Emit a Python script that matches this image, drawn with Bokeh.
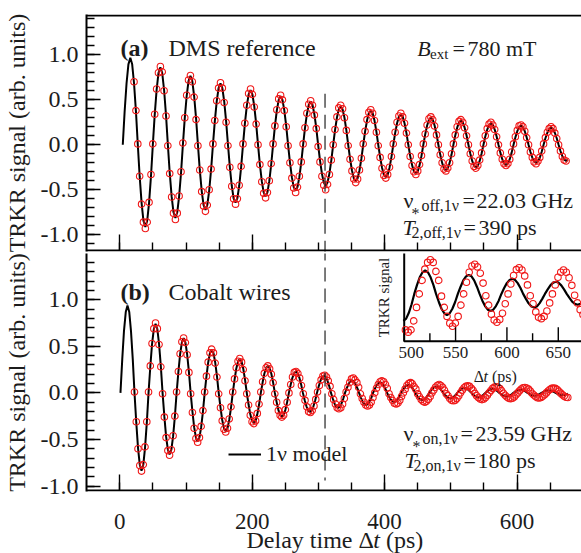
import math
from bokeh.plotting import figure
from bokeh.models import (Range1d, LinearAxis, FixedTicker, Label, ColumnDataSource,
                          PrintfTickFormatter, Legend, LegendItem)
from bokeh.layouts import column
from bokeh.embed import file_html
from bokeh.resources import INLINE
from bokeh.core.properties import value

# ======================= DATA =======================
# (a) DMS reference: delay times (ps) of the model curve
t_a = [
    4.5, 7.3, 10.2, 13.0, 15.9, 18.7, 21.5, 24.4, 27.2, 30.0, 32.9, 35.7, 38.6, 41.4, 44.2, 47.1,
    49.9, 52.7, 55.6, 58.4, 61.3, 64.1, 66.9, 69.8, 72.6, 75.4, 78.3, 81.1, 84.0, 86.8, 89.6, 92.5,
    95.3, 98.1, 101.0, 103.8, 106.7, 109.5, 112.3, 115.2, 118.0, 120.8, 123.7, 126.5, 129.4, 132.2, 135.0, 137.9,
    140.7, 143.5, 146.4, 149.2, 152.1, 154.9, 157.7, 160.6, 163.4, 166.2, 169.1, 171.9, 174.8, 177.6, 180.4, 183.3,
    186.1, 188.9, 191.8, 194.6, 197.5, 200.3, 203.1, 206.0, 208.8, 211.6, 214.5, 217.3, 220.2, 223.0, 225.8, 228.7,
    231.5, 234.3, 237.2, 240.0, 242.9, 245.7, 248.5, 251.4, 254.2, 257.0, 259.9, 262.7, 265.6, 268.4, 271.2, 274.1,
    276.9, 279.7, 282.6, 285.4, 288.3, 291.1, 293.9, 296.8, 299.6, 302.4, 305.3, 308.1, 311.0, 313.8, 316.6, 319.5,
    322.3, 325.1, 328.0, 330.8, 333.7, 336.5, 339.3, 342.2, 345.0, 347.8, 350.7, 353.5, 356.4, 359.2, 362.0, 364.9,
    367.7, 370.5, 373.4, 376.2, 379.1, 381.9, 384.7, 387.6, 390.4, 393.2, 396.1, 398.9, 401.8, 404.6, 407.4, 410.3,
    413.1, 415.9, 418.8, 421.6, 424.5, 427.3, 430.1, 433.0, 435.8, 438.6, 441.5, 444.3, 447.2, 450.0, 452.8, 455.7,
    458.5, 461.3, 464.2, 467.0, 469.9, 472.7, 475.5, 478.4, 481.2, 484.0, 486.9, 489.7, 492.6, 495.4, 498.2, 501.1,
    503.9, 506.7, 509.6, 512.4, 515.3, 518.1, 520.9, 523.8, 526.6, 529.4, 532.3, 535.1, 538.0, 540.8, 543.6, 546.5,
    549.3, 552.1, 555.0, 557.8, 560.7, 563.5, 566.3, 569.2, 572.0, 574.8, 577.7, 580.5, 583.4, 586.2, 589.0, 591.9,
    594.7, 597.5, 600.4, 603.2, 606.1, 608.9, 611.7, 614.6, 617.4, 620.2, 623.1, 625.9, 628.8, 631.6, 634.4, 637.3,
    640.1, 642.9, 645.8, 648.6, 651.5, 654.3, 657.1, 660.0, 662.8, 665.6, 668.5, 671.3, 674.2, 677.0,
]
# (a) 1-nu model curve
model_a = [
    0, .370, .684, .894, .967, .894, .684, .370, 0, -.349, -.645, -.843, -.912, -.843, -.645, -.349,
    0, .330, .609, .796, .861, .796, .609, .330, 0, -.311, -.574, -.750, -.812, -.750, -.574, -.311,
    0, .293, .542, .708, .766, .708, .542, .293, 0, -.277, -.511, -.668, -.723, -.668, -.511, -.277,
    0, .261, .482, .630, .682, .630, .482, .261, 0, -.246, -.455, -.594, -.643, -.594, -.455, -.246,
    0, .232, .429, .561, .607, .561, .429, .232, 0, -.219, -.404, -.529, -.572, -.529, -.404, -.219,
    0, .207, .382, .499, .540, .499, .382, .207, 0, -.195, -.360, -.470, -.509, -.470, -.360, -.195,
    0, .184, .340, .444, .481, .444, .340, .184, 0, -.173, -.320, -.419, -.453, -.419, -.320, -.173,
    0, .164, .303, .395, .428, .395, .303, .164, 0, -.155, -.286, -.373, -.404, -.373, -.286, -.155,
    0, .146, .269, .352, .381, .352, .269, .146, 0, -.137, -.254, -.332, -.359, -.332, -.254, -.137,
    0, .130, .240, .313, .339, .313, .240, .130, 0, -.123, -.226, -.296, -.320, -.296, -.226, -.123,
    0, .116, .214, .279, .302, .279, .214, .116, 0, -.109, -.201, -.263, -.285, -.263, -.201, -.109,
    0, .103, .190, .249, .269, .249, .190, .103, 0, -.097, -.179, -.234, -.253, -.234, -.179, -.097,
    0, .092, .169, .221, .239, .221, .169, .092, 0, -.087, -.160, -.209, -.226, -.209, -.160, -.087,
    0, .082, .151, .197, .213, .197, .151, .082, 0, -.077, -.142, -.186, -.201, -.186, -.142, -.077,
    0, .073, .134, .176, .190, .176, .134, .073, 0, -.069, -.127, -.165, -.179, -.165,
]
# (a) measured TRKR signal, taken at t_a[6] ... t_a[236]
signal_a = [
    .70, .38, .01, -.35, -.66, -.86, -.93, -.86, -.64, -.33,
    .01, .34, .62, .80, .87, .81, .60, .32, -.01, -.32, -.58, -.76, -.83, -.76, -.57, -.30,
    .02, .30, .55, .72, .77, .70, .53, .28, -.01, -.28, -.52, -.68, -.74, -.67, -.50, -.27,
    .01, .27, .49, .63, .69, .63, .47, .25, -.01, -.25, -.46, -.60, -.66, -.60, -.45, -.24,
    .01, .24, .44, .57, .62, .56, .42, .23, .00, -.22, -.41, -.54, -.59, -.53, -.40, -.21,
    .01, .21, .39, .51, .55, .50, .38, .20, -.01, -.20, -.37, -.48, -.53, -.47, -.35, -.19,
    .01, .19, .35, .45, .49, .44, .33, .18, -.02, -.19, -.35, -.45, -.50, -.44, -.33, -.17,
    .00, .17, .31, .41, .44, .40, .30, .16, -.01, -.16, -.29, -.38, -.42, -.38, -.28, -.15,
    .01, .15, .28, .36, .39, .35, .27, .14, -.01, -.14, -.26, -.34, -.37, -.33, -.25, -.13,
    .01, .14, .25, .32, .35, .31, .24, .13, .00, -.13, -.23, -.30, -.33, -.29, -.22, -.12,
    .01, .12, .22, .29, .31, .28, .21, .11, .00, -.11, -.20, -.27, -.29, -.26, -.20, -.10,
    .01, .11, .20, .26, .28, .25, .19, .10, .00, -.10, -.18, -.24, -.26, -.23, -.17, -.09,
    .01, .10, .18, .23, .25, .22, .17, .09, .00, -.09, -.16, -.21, -.23, -.21, -.16, -.08,
    .01, .09, .16, .21, .22, .20, .15, .08, .00, -.08, -.14, -.19, -.21, -.18, -.14, -.07,
    .01, .08, .14, .18, .20, .18, .13, .07, .00, -.07, -.13, -.17, -.18,
]

# (b) Cobalt wires: delay times (ps) of the model curve
t_b = [
    1.0, 3.7, 6.3, 9.0, 11.6, 14.3, 16.9, 19.6, 22.2, 24.9, 27.5, 30.2, 32.8, 35.5, 38.1, 40.8,
    43.4, 46.1, 48.7, 51.4, 54.0, 56.7, 59.3, 62.0, 64.6, 67.3, 69.9, 72.6, 75.2, 77.9, 80.5, 83.2,
    85.8, 88.5, 91.1, 93.8, 96.4, 99.1, 101.7, 104.4, 107.0, 109.7, 112.3, 115.0, 117.6, 120.3, 122.9, 125.6,
    128.2, 130.9, 133.5, 136.2, 138.8, 141.5, 144.1, 146.8, 149.4, 152.1, 154.7, 157.4, 160.0, 162.7, 165.3, 168.0,
    170.6, 173.3, 175.9, 178.6, 181.2, 183.9, 186.5, 189.2, 191.8, 194.5, 197.1, 199.8, 202.4, 205.1, 207.7, 210.4,
    213.0, 215.7, 218.3, 221.0, 223.6, 226.3, 228.9, 231.6, 234.2, 236.9, 239.5, 242.2, 244.8, 247.5, 250.1, 252.8,
    255.4, 258.1, 260.7, 263.4, 266.0, 268.7, 271.3, 274.0, 276.6, 279.3, 281.9, 284.6, 287.2, 289.9, 292.5, 295.2,
    297.8, 300.5, 303.1, 305.8, 308.4, 311.1, 313.7, 316.4, 319.0, 321.7, 324.3, 327.0, 329.6, 332.3, 334.9, 337.6,
    340.2, 342.9, 345.5, 348.2, 350.8, 353.5, 356.1, 358.8, 361.4, 364.1, 366.7, 369.4, 372.0, 374.7, 377.3, 380.0,
    382.6, 385.3, 387.9, 390.6, 393.2, 395.9, 398.5, 401.2, 403.8, 406.5, 409.1, 411.8, 414.4, 417.1, 419.7, 422.4,
    425.0, 427.7, 430.3, 433.0, 435.6, 438.3, 440.9, 443.6, 446.2, 448.9, 451.5, 454.2, 456.8, 459.5, 462.1, 464.8,
    467.4, 470.1, 472.7, 475.4, 478.0, 480.7, 483.3, 486.0, 488.6, 491.3, 493.9, 496.6, 499.2, 501.9, 504.5, 507.2,
    509.8, 512.5, 515.1, 517.8, 520.4, 523.1, 525.7, 528.4, 531.0, 533.7, 536.3, 539.0, 541.6, 544.3, 546.9, 549.6,
    552.2, 554.9, 557.5, 560.2, 562.8, 565.5, 568.1, 570.8, 573.4, 576.1, 578.7, 581.4, 584.0, 586.7, 589.3, 592.0,
    594.6, 597.3, 599.9, 602.6, 605.2, 607.9, 610.5, 613.2, 615.8, 618.5, 621.1, 623.8, 626.4, 629.1, 631.7, 634.4,
    637.0, 639.7, 642.3, 645.0, 647.6, 650.3, 652.9, 655.6, 658.2, 660.9, 663.5, 666.2, 668.8, 671.5, 674.1, 676.8,
]
# (b) 1-nu model curve
model_b = [
    0, .360, .664, .868, .939, .868, .664, .360, 0, -.320, -.590, -.772, -.835, -.772, -.590, -.320,
    0, .284, .525, .686, .742, .686, .525, .284, 0, -.253, -.467, -.610, -.660, -.610, -.467, -.253,
    0, .225, .415, .542, .587, .542, .415, .225, 0, -.200, -.368, -.481, -.521, -.481, -.368, -.200,
    0, .177, .327, .428, .463, .428, .327, .177, 0, -.158, -.291, -.381, -.412, -.381, -.291, -.158,
    0, .140, .259, .338, .366, .338, .259, .140, 0, -.125, -.230, -.301, -.326, -.301, -.230, -.125,
    0, .111, .205, .268, .290, .268, .205, .111, 0, -.099, -.182, -.238, -.258, -.238, -.182, -.099,
    0, .088, .162, .212, .229, .212, .162, .088, 0, -.078, -.144, -.188, -.204, -.188, -.144, -.078,
    0, .071, .131, .171, .185, .171, .131, .071, 0, -.061, -.113, -.148, -.160, -.148, -.113, -.061,
    0, .052, .095, .125, .135, .125, .095, .052, 0, -.050, -.092, -.120, -.130, -.120, -.092, -.050,
    0, .044, .081, .105, .114, .105, .081, .044, 0, -.038, -.069, -.091, -.098, -.091, -.069, -.038,
    0, .033, .060, .079, .085, .079, .060, .033, 0, -.030, -.055, -.072, -.078, -.072, -.055, -.030,
    0, .026, .048, .063, .068, .063, .048, .026, 0, -.023, -.042, -.055, -.060, -.055, -.042, -.023,
    0, .020, .037, .048, .052, .048, .037, .020, 0, -.018, -.033, -.043, -.047, -.043, -.033, -.018,
    0, .016, .030, .039, .042, .039, .030, .016, 0, -.015, -.027, -.035, -.038, -.035, -.027, -.015,
    0, .013, .024, .031, .034, .031, .024, .013, 0, -.011, -.021, -.028, -.030, -.028, -.021, -.011,
    0, .010, .019, .025, .027, .025, .019, .010, 0, -.009, -.017, -.022, -.024, -.022, -.017, -.009,
]
# (b) measured delay times after 250 ps (earlier ones coincide with t_b[8:95])
t_signal_b_late = [
    252.8, 255.5, 258.2, 260.9, 263.6, 266.3, 269.0, 271.7, 274.4, 277.1,
    279.8, 282.5, 285.2, 287.9, 290.6, 293.3, 296.0, 298.7, 301.4, 304.1,
    306.8, 309.5, 312.2, 314.9, 317.6, 320.3, 323.0, 325.7, 328.4, 331.1,
    333.8, 336.5, 339.2, 341.9, 344.6, 347.3, 350.0, 352.7, 355.4, 358.1,
    360.8, 363.5, 366.2, 368.9, 371.6, 374.3, 377.0, 379.7, 382.4, 385.1,
    387.8, 390.5, 393.2, 395.9, 398.6, 401.3, 404.0, 406.7, 409.4, 412.1,
    414.8, 417.5, 420.2, 422.9, 425.6, 428.3, 431.0, 433.7, 436.4, 439.1,
    441.8, 444.5, 447.2, 449.9, 452.6, 455.3, 458.0, 460.7, 463.4, 466.1,
    468.8, 471.5, 474.2, 476.9, 479.6, 482.3, 485.0, 487.7, 490.4, 493.1,
    495.8, 498.5, 501.2, 503.9, 506.6, 509.3, 512.0, 514.7, 517.4, 520.1,
    522.8, 525.5, 528.2, 530.9, 533.6, 536.3, 539.0, 541.7, 544.4, 547.1,
    549.8, 552.5, 555.2, 557.9, 560.6, 563.3, 566.0, 568.7, 571.4, 574.1,
    576.8, 579.5, 582.2, 584.9, 587.6, 590.3, 593.0, 595.7, 598.4, 601.1,
    603.8, 606.5, 609.2, 611.9, 614.6, 617.3, 620.0, 622.7, 625.4, 628.1,
    630.8, 633.5, 636.2, 638.9, 641.6, 644.3, 647.0, 649.7, 652.4, 655.1,
    657.8, 660.5, 663.2, 665.9, 668.6, 671.3, 674.0, 676.7,
]
# (b) measured TRKR signal
signal_b = [
    .01, -.31, -.60, -.78, -.84, -.77, -.58, -.31,
    .01, .29, .53, .69, .75, .69, .52, .28,
    -.01, -.26, -.48, -.62, -.67, -.61, -.46, -.25,
    .01, .23, .42, .55, .59, .54, .41, .22,
    -.01, -.21, -.38, -.49, -.53, -.48, -.36, -.19,
    .01, .18, .33, .43, .47, .43, .32, .17,
    -.01, -.16, -.30, -.39, -.42, -.38, -.28, -.15,
    .01, .15, .27, .34, .37, .33, .25, .13,
    -.01, -.13, -.24, -.31, -.33, -.30, -.22, -.12,
    .01, .12, .21, .27, .29, .26, .20, .11,
    -.01, -.10, -.19, -.24, -.26, -.24, -.18,
    -.10,
    .00, .09, .17, .22, .23, .21, .16, .08,
    -.01, -.08, -.15, -.20, -.21, -.19, -.14, -.07,
    .01, .08, .14, .18, .19, .17, .13, .07,
    -.01, -.07, -.12, -.16, -.17, -.16, -.12, -.06,
    .01, .06, .11, .15, .16, .14, .11, .06,
    -.01, -.06, -.10, -.13, -.14, -.13, -.10, -.05,
    .00, .05, .09, .12, .13, .12, .09, .05,
    -.01, -.05, -.08, -.11, -.12, -.11, -.08, -.04,
    .00, .04, .08, .10, .11, .10, .07, .04,
    -.01, -.04, -.07, -.09, -.10, -.09, -.07, -.04,
    .00, .03, .06, .08, .09, .08, .06, .03,
    -.01, -.03, -.06, -.08, -.085, -.08, -.06, -.03,
    .00, .03, .055, .07, .076, .07, .05, .03,
    -.005, -.03, -.05, -.065, -.072, -.065, -.05, -.025,
    .00, .026, .048, .062, .066, .06, .046, .024,
    -.004, -.025, -.045, -.058, -.063, -.057, -.043, -.022,
    .00, .022, .041, .054, .058, .053, .04, .02,
    -.004, -.022, -.04, -.052, -.055, -.05, -.038, -.02,
    .00, .02, .037, .048, .053, .048, .036, .019,
    -.003, -.02, -.035, -.046, -.05,
]

# axes ticks
x_major_ticks = [0, 200, 400, 600]
x_tick_labels = ["0", "200", "400", "600"]
x_minor_ticks = [0, 50, 100, 150, 200, 250, 300, 350, 400, 450, 500, 550, 600, 650]
y_major_ticks = [-1.0, -0.5, 0.0, 0.5, 1.0]
y_minor_ticks_a = [-1.1, -1.0, -0.9, -0.8, -0.7, -0.6, -0.5, -0.4, -0.3, -0.2, -0.1, 0.0, 0.1,
                   0.2, 0.3, 0.4, 0.5, 0.6, 0.7, 0.8, 0.9, 1.0, 1.1, 1.2, 1.3, 1.4]
y_minor_ticks_b = [-1.0, -0.9, -0.8, -0.7, -0.6, -0.5, -0.4, -0.3, -0.2, -0.1, 0.0, 0.1,
                   0.2, 0.3, 0.4, 0.5, 0.6, 0.7, 0.8, 0.9, 1.0, 1.1, 1.2, 1.3, 1.4]
inset_major_ticks = [500, 550, 600, 650]
inset_minor_ticks = [525, 575, 625]
inset_tick_labels = ["500", "550", "600", "650"]

# dashed marker at 310 ps
marker_t = 310.0
marker_top_a = 0.567
marker_bottom_b = -0.94

# inset window (inset data coordinates)
inset_t0, inset_t_far = 500.0, 760.0
inset_s0, inset_s_far = -0.105, 0.3

assert len(t_a) == len(model_a) == 238
assert len(signal_a) == 231
assert len(t_b) == len(model_b) == 256
assert len(t_b[8:95]) + len(t_signal_b_late) == len(signal_b)

# ======================= STYLE =======================
FONT = "Liberation Serif"
INK = "#1c1c1c"
RED = "#f01818"
NU = "\u03bd"
X_RANGE = (-50.3, 697.4)
YLABEL = "TRKR signal (arb. units)"
YR_A = (-1.186, 1.448)
YR_B = (-1.059, 1.497)


def style_axis(ax, major_in, minor_in, size):
    ax.axis_line_width = 2
    ax.axis_line_color = "black"
    ax.major_tick_in = major_in
    ax.major_tick_out = 0
    ax.minor_tick_in = minor_in
    ax.minor_tick_out = 0
    ax.major_tick_line_width = 1.4
    ax.minor_tick_line_width = 1.4
    ax.major_tick_line_color = "black"
    ax.minor_tick_line_color = "black"
    ax.major_label_text_font = FONT
    ax.major_label_text_font_size = size
    ax.major_label_text_color = INK


def hide_labels(ax):
    ax.major_label_text_color = None
    ax.major_label_text_font_size = "1px"
    ax.major_label_standoff = 0


def y_label(ax):
    ax.axis_label = YLABEL
    ax.axis_label_text_font = FONT
    ax.axis_label_text_font_size = "24px"
    ax.axis_label_text_font_style = "normal"
    ax.axis_label_text_color = INK
    ax.axis_label_standoff = 8


def lab(p, text, x, y, size, style="normal", angle=0.0, align="left", baseline="alphabetic",
        x_units="screen"):
    p.add_layout(Label(x=x, y=y, x_units=x_units, y_units="screen", text=text,
                       text_font=FONT, text_font_size=f"{size}px", text_font_style=style,
                       text_color=INK, text_align=align, text_baseline=baseline, angle=angle))


def make_fig(height, yr, top, bottom, **kw):
    p = figure(width=581, height=height, x_range=Range1d(*X_RANGE), y_range=Range1d(*yr),
               output_backend="svg", toolbar_location=None, tools="",
               min_border_left=86, min_border_right=0, min_border_top=top,
               min_border_bottom=bottom, outline_line_color=None,
               background_fill_color="white", border_fill_color="white", **kw)
    p.grid.visible = False
    return p


# ======================= PANEL (a) =======================
pa = make_fig(253, YR_A, 14, 2)
ya = pa.yaxis[0]
style_axis(ya, 14, 8, "24px")
ya.ticker = FixedTicker(ticks=y_major_ticks, minor_ticks=y_minor_ticks_a)
ya.formatter = PrintfTickFormatter(format="%.1f")
ya.major_label_standoff = 8
y_label(ya)
# tick-only axes placed at the frame edges (they take no border space)
xa = pa.xaxis[0]
style_axis(xa, 16, 8, "1px")
hide_labels(xa)
xa.ticker = FixedTicker(ticks=x_major_ticks, minor_ticks=x_minor_ticks)
xa.fixed_location = YR_A[0] + 0.011
top_axis = LinearAxis(ticker=FixedTicker(ticks=[]))
style_axis(top_axis, 0, 0, "1px")
hide_labels(top_axis)
top_axis.fixed_location = YR_A[1] - 0.011
pa.add_layout(top_axis, "above")

pa.line(t_a, model_a, line_color="black", line_width=2)
pa.scatter(t_a[6:237], signal_a, marker="circle", size=6.5, fill_color=None,
           line_color=RED, line_width=1.1)
pa.segment(x0=[marker_t], y0=[marker_top_a], x1=[marker_t], y1=[YR_A[0] - 0.3],
           line_color="#333333", line_width=1.3, line_dash="14 7")

# panel (a) texts (screen units, from frame bottom-left: frame left=86, bottom=251)
lab(pa, "(a)", 34, 204, 24, "bold")
lab(pa, "DMS reference", 82, 203.5, 24)
lab(pa, "B", 330.7, 203, 22, "italic")
lab(pa, "ext", 343.5, 198, 15)
lab(pa, "=", 366, 203, 22)
lab(pa, "780 mT", 381, 203, 22)
lab(pa, NU, 317, 51, 22)
lab(pa, "off,1" + NU, 335, 46, 16)
lab(pa, "=", 376, 51, 22)
lab(pa, "22.03 GHz", 390, 51, 22)
lab(pa, "T", 316, 24.3, 22, "italic")
lab(pa, "*", 325, 38, 16)
lab(pa, "2,off,1" + NU, 325, 19.5, 16)
lab(pa, "=", 377, 24.3, 22)
lab(pa, "390 ps", 392, 24.3, 22)

# ======================= PANEL (b) =======================
pb = make_fig(247, YR_B, 0, 9)
yb = pb.yaxis[0]
style_axis(yb, 14, 8, "24px")
yb.ticker = FixedTicker(ticks=y_major_ticks, minor_ticks=y_minor_ticks_b)
yb.formatter = PrintfTickFormatter(format="%.1f")
yb.major_label_standoff = 8
y_label(yb)
xb = pb.xaxis[0]
style_axis(xb, 16, 8, "1px")
hide_labels(xb)
xb.ticker = FixedTicker(ticks=x_major_ticks, minor_ticks=x_minor_ticks)
xb.fixed_location = YR_B[0] + 0.011

t_signal_b = t_b[8:95] + t_signal_b_late
rb_line = pb.line(t_b, model_b, line_color="black", line_width=2)
pb.scatter(t_signal_b, signal_b, marker="circle", size=6.5, fill_color=None,
           line_color=RED, line_width=1.1)
pb.segment(x0=[marker_t], y0=[YR_B[1] + 0.3], x1=[marker_t], y1=[marker_bottom_b],
           line_color="#333333", line_width=1.3, line_dash="14 7")

legend = Legend(items=[LegendItem(label=value("1" + NU + " model"), renderers=[rb_line])],
                location=(142, 24), orientation="vertical")
legend.label_text_font = FONT
legend.label_text_font_size = "22px"
legend.label_text_color = INK
legend.glyph_width = 33
legend.glyph_height = 20
legend.label_height = 20
legend.label_standoff = 5
legend.padding = 0
legend.margin = 0
legend.spacing = 0
legend.border_line_color = None
legend.background_fill_alpha = 0
pb.add_layout(legend)

# panel (b) texts (frame left=86, bottom=491)
lab(pb, "(b)", 34, 200, 24, "bold")
lab(pb, "Cobalt wires", 82, 199.5, 24)
lab(pb, NU, 317, 58, 22)
lab(pb, "on,1" + NU, 336, 53, 16)
lab(pb, "=", 374, 58, 22)
lab(pb, "23.59 GHz", 389, 58, 22)
lab(pb, "T", 318, 31, 22, "italic")
lab(pb, "*", 326, 45, 16)
lab(pb, "2,on,1" + NU, 327, 26, 16)
lab(pb, "=", 377, 31, 22)
lab(pb, "180 ps", 391, 31, 22)

# ----- inset -----
pb.extra_x_ranges = {"ix": Range1d(190.7, 672.6)}
pb.extra_y_ranges = {"iy": Range1d(-0.4391, 0.0898)}
pb.quad(left=[inset_t0], right=[inset_t_far], bottom=[inset_s0], top=[inset_s_far],
        x_range_name="ix", y_range_name="iy", fill_color="white", line_color="black",
        line_width=2)
ins_line = [(t, v) for t, v in zip(t_b, model_b) if t >= inset_t0 - 1]
ins_sig = [(t, v) for t, v in zip(t_signal_b, signal_b) if t >= inset_t0]
pb.line([p[0] for p in ins_line], [p[1] for p in ins_line], x_range_name="ix",
        y_range_name="iy", line_color="black", line_width=2.2)
pb.scatter([p[0] for p in ins_sig], [p[1] for p in ins_sig], x_range_name="ix",
           y_range_name="iy", marker="circle", size=6.5, fill_color=None,
           line_color=RED, line_width=1.1)
pb.ray(x=inset_major_ticks, y=[inset_s0] * len(inset_major_ticks), length=14,
       length_units="screen", angle=math.pi / 2, line_color="black", line_width=1.4,
       x_range_name="ix", y_range_name="iy")
pb.ray(x=inset_minor_ticks, y=[inset_s0] * len(inset_minor_ticks), length=8,
       length_units="screen", angle=math.pi / 2, line_color="black", line_width=1.4,
       x_range_name="ix", y_range_name="iy")
tick_src = ColumnDataSource(dict(x=inset_major_ticks, y=[inset_s0] * len(inset_major_ticks),
                                 text=inset_tick_labels, dx=[7, 0, 0, 0]))
pb.text(x="x", y="y", text="text", x_offset="dx", y_offset=6, source=tick_src,
        x_range_name="ix", y_range_name="iy", text_font=value(FONT),
        text_font_size="17px", text_color=INK, text_align="center", text_baseline="top")
lab(pb, "TRKR signal", 297, 194, 15, angle=math.pi / 2, align="center", baseline="middle")
lab(pb, "\u0394", 387.3, 115, 16)
lab(pb, "t", 397.1, 115, 16, "italic")
lab(pb, "(ps)", 405.5, 115, 16)

# ======================= x tick labels + axis title strip =======================
# strip spans page y 500..553; labels are placed in pixels up from its bottom
pc = make_fig(53, (0, 1), 0, 0, x_axis_type=None, y_axis_type=None, title=None)
for tick, text in zip(x_major_ticks, x_tick_labels):
    lab(pc, text, tick, 32, 23, align="center", x_units="data")
lab(pc, "Delay time \u0394", 160, 14, 24)
lab(pc, "t", 286.7, 14, 24, "italic")
lab(pc, "(ps)", 299.4, 14, 24)

layout = column(pa, pb, pc)
open("out.html", "w").write(file_html(layout, INLINE))
